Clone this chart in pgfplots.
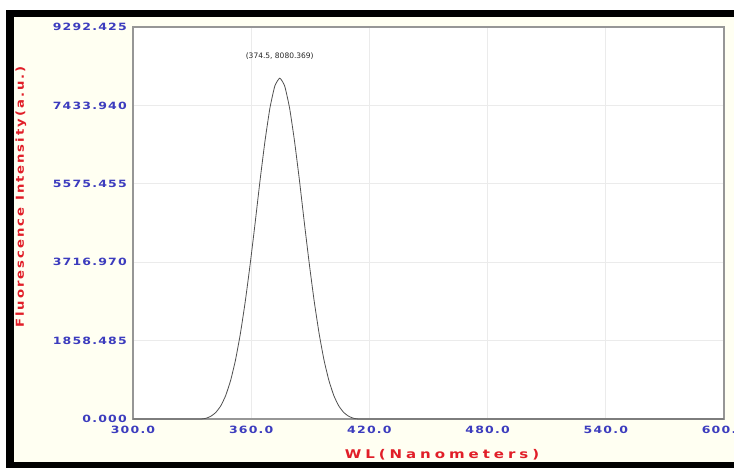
\documentclass[border=0pt]{standalone}
\usepackage{pgfplots}
\pgfplotsset{compat=1.18}
\usepackage{fontspec}
\setmainfont{DejaVu Sans}
\newfontfamily\tickfont[FakeStretch=1.25,LetterSpace=12]{DejaVu Sans}
\newfontfamily\xlabfont[FakeStretch=1.25,LetterSpace=33]{DejaVu Sans}
\newfontfamily\ylabfont[FakeStretch=1.2,LetterSpace=18]{DejaVu Sans}
\definecolor{cream}{RGB}{255,255,242}
\definecolor{tickblue}{RGB}{60,60,190}
\definecolor{labred}{RGB}{225,30,40}
\definecolor{curve}{RGB}{80,80,80}
\definecolor{frame}{RGB}{150,150,150}
\pgfplotstableread{
x y
300 0
320 0
332 0
334.5 0
337 16
339.5 65
342 154
344.5 307
347 549
349.5 905
352 1390
354.5 2020
357 2788
359.5 3677
362 4646
364.5 5656
367 6586
369.5 7369
372 7894
374.5 8080.369
377 7894
379.5 7369
382 6586
384.5 5656
387 4646
389.5 3677
392 2788
394.5 2020
397 1390
399.5 905
402 549
404.5 307
407 154
409.5 65
412 16
414.5 0
417 0
450 0
500 0
550 0
600 0
}\spectrum
\begin{document}
\begin{tikzpicture}[x=1pt,y=1pt]
\path[use as bounding box] (0,0) rectangle (734,468);
\fill[white] (0,0) rectangle (734,468);
\fill[cream] (14,6) rectangle (734,451);
\fill[black] (6,451) rectangle (734,458);
\fill[black] (6,0) rectangle (734,6);
\fill[black] (6,0) rectangle (14,458);
\begin{axis}[
  at={(133pt,49pt)}, anchor=south west,
  scale only axis, width=591pt, height=392pt,
  xmin=300, xmax=600, ymin=0, ymax=9292.425,
  axis background/.style={fill=white},
  xtick={300,360,420,480,540,600},
  ytick={0,1858.485,3716.970,5575.455,7433.940,9292.425},
  yticklabels={0.000,1858.485,3716.970,5575.455,7433.940,9292.425},
  major tick length=0pt,
  grid=major,
  major grid style={draw=black!8, line width=0.6pt},
  axis line style={draw=frame, line width=1.3pt},
  xticklabel style={/pgf/number format/fixed, /pgf/number format/fixed zerofill, /pgf/number format/precision=1, /pgf/number format/1000 sep={}, /pgf/number format/assume math mode=true, anchor=center, inner sep=0pt, yshift=-11pt, font=\tickfont\bfseries\fontsize{10}{12}\selectfont, text=tickblue},
  yticklabel style={anchor=east, inner sep=0pt, xshift=-6pt, font=\tickfont\bfseries\fontsize{10}{12}\selectfont, text=tickblue},
  clip=false,
]
\addplot[curve, line width=0.8pt, smooth, tension=0.3] table[x=x,y=y] {\spectrum};
\draw[black, line width=0.9pt] (axis cs:374.5,8080.369) ++(0,3pt) -- ++(0,11pt);
\node[font=\fontsize{7.5}{9}\selectfont, text=black!85] at (axis cs:374.5,8080.369) [yshift=22pt] {(374.5, 8080.369)};
\end{axis}
\node[font=\xlabfont\bfseries\fontsize{12}{14}\selectfont, text=labred] at (442,13) {WL(Nanometers)};
\node[rotate=90, font=\ylabfont\bfseries\fontsize{11}{13}\selectfont, text=labred] at (21,271) {Fluorescence Intensity(a.u.)};
\end{tikzpicture}
\end{document}
